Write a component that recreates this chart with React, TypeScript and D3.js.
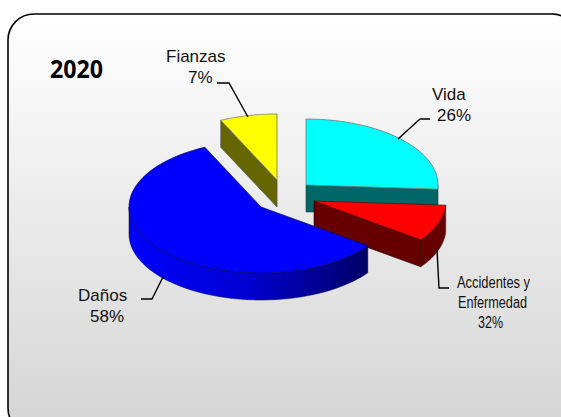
import React from "react";
import * as d3 from "d3";

const categories = ["Vida", "Accidentes y", "Enfermedad", "Daños", "Fianzas"];
const percentLabels = ["26%", "32%", "58%", "7%"];
// Slice sizes as drawn in the picture
const sliceShares = [26, 9, 58, 7];
const topColors = ["#00ffff", "#ff0000", "#0000ff", "#ffff00"];
const cutColors = ["#006666", "#660000", "#000099", "#666600"];
const centersX = [306, 314, 261, 277];
const centersY = [185, 201, 207, 180];

const RX = 132, RY = 66, DEPTH = 27;

const pie = d3.pie<number>().sort(null).value((d) => d);
const arcs = pie(sliceShares);

const px = (i: number, a: number) => centersX[i] + Math.sin(a) * RX;
const py = (i: number, a: number) => centersY[i] - Math.cos(a) * RY;

function topPath(i: number) {
  return d3.line<number>()
    .x((a) => px(i, a))
    .y((a) => py(i, a))(d3.range(0, 61).map((k) => arcs[i].startAngle + (arcs[i].endAngle - arcs[i].startAngle) * k / 60))!;
}
function top(i: number) {
  return `M${centersX[i]},${centersY[i]}L${topPath(i).slice(1)}Z`;
}
function outer(i: number, a0: number, a1: number) {
  const as = d3.range(0, 61).map((k) => a0 + (a1 - a0) * k / 60);
  const area = d3.area<number>().x((a) => px(i, a)).y0((a) => py(i, a)).y1((a) => py(i, a) + DEPTH);
  return area(as)!;
}
function cut(i: number, a: number) {
  const x0 = centersX[i], y0 = centersY[i], x1 = px(i, a), y1 = py(i, a);
  return `M${x0},${y0}L${x1},${y1}L${x1},${y1 + DEPTH}L${x0},${y0 + DEPTH}Z`;
}

const EDGE = "#333333";
const label: React.CSSProperties = { fontFamily: "Liberation Sans", fontSize: 17, fill: "#111" };
const small: React.CSSProperties = { fontFamily: "Liberation Sans", fontSize: 16, fill: "#111" };

export default function App() {
  return (
    <svg width={561} height={417} style={{ position: "absolute", left: 0, top: 0 }}>
      <defs>
        <linearGradient id="bg" x1="0" y1="0" x2="0" y2="1">
          <stop offset="0" stopColor="#ffffff" />
          <stop offset="1" stopColor="#d4d4d4" />
        </linearGradient>
        <linearGradient id="blueSide" gradientUnits="userSpaceOnUse" x1="129" y1="0" x2="369" y2="0">
          <stop offset="0" stopColor="#0000ff" />
          <stop offset="0.5" stopColor="#0000d0" />
          <stop offset="1" stopColor="#000066" />
        </linearGradient>
      </defs>
      <rect x={8} y={14} width={570} height={420} rx={26} fill="url(#bg)" stroke="#000" strokeWidth={1.6} />

      {/* Vida */}
      <path d={cut(0, Math.PI / 2)} fill={cutColors[0]} stroke={EDGE} strokeWidth={0.6} />
      <path d={top(0)} fill={topColors[0]} stroke="#777" strokeWidth={0.8} />
      {/* Fianzas */}
      <path d={cut(3, arcs[3].startAngle)} fill={cutColors[3]} stroke="#555" strokeWidth={0.8} />
      <path d={top(3)} fill={topColors[3]} stroke="#777" strokeWidth={0.8} />
      {/* Accidentes */}
      <path d={outer(1, arcs[1].startAngle, arcs[1].endAngle)} fill={cutColors[1]} stroke={EDGE} strokeWidth={0.6} />
      <path d={cut(1, arcs[1].endAngle)} fill={cutColors[1]} stroke="#220000" strokeWidth={0.6} />
      <path d={top(1)} fill={topColors[1]} stroke="#550000" strokeWidth={0.6} />
      {/* Daños */}
      <path d={outer(2, arcs[2].startAngle, Math.PI * 1.5)} fill="url(#blueSide)" stroke="#000055" strokeWidth={0.5} />
      <path d={top(2)} fill={topColors[2]} stroke="#000066" strokeWidth={0.7} />

      {/* leaders */}
      <g fill="none" stroke="#000" strokeWidth={1.4}>
        <polyline points="217,83 229,83 248,117" />
        <polyline points="430,119 420,119 398,139" />
        <polyline points="437,250 439,288 449,288" />
        <polyline points="141,299 152,299 163,277" />
      </g>

      <text x={50} y={78} textLength={53} lengthAdjust="spacingAndGlyphs" style={{ fontFamily: "Open Sans", fontSize: 25, fontWeight: 700, fill: "#000" }}>2020</text>
      <text x={166} y={62} style={label}>{categories[4]}</text>
      <text x={188} y={83} style={label}>{percentLabels[3]}</text>
      <text x={432} y={100} style={label}>{categories[0]}</text>
      <text x={437} y={121} style={label}>{percentLabels[0]}</text>
      <text x={78} y={301} style={label}>{categories[3]}</text>
      <text x={90} y={322} style={label}>{percentLabels[2]}</text>
      <text x={457} y={288} textLength={73} lengthAdjust="spacingAndGlyphs" style={small}>{categories[1]}</text>
      <text x={458} y={308} textLength={69} lengthAdjust="spacingAndGlyphs" style={small}>{categories[2]}</text>
      <text x={478} y={328} textLength={25} lengthAdjust="spacingAndGlyphs" style={small}>{percentLabels[1]}</text>
    </svg>
  );
}
